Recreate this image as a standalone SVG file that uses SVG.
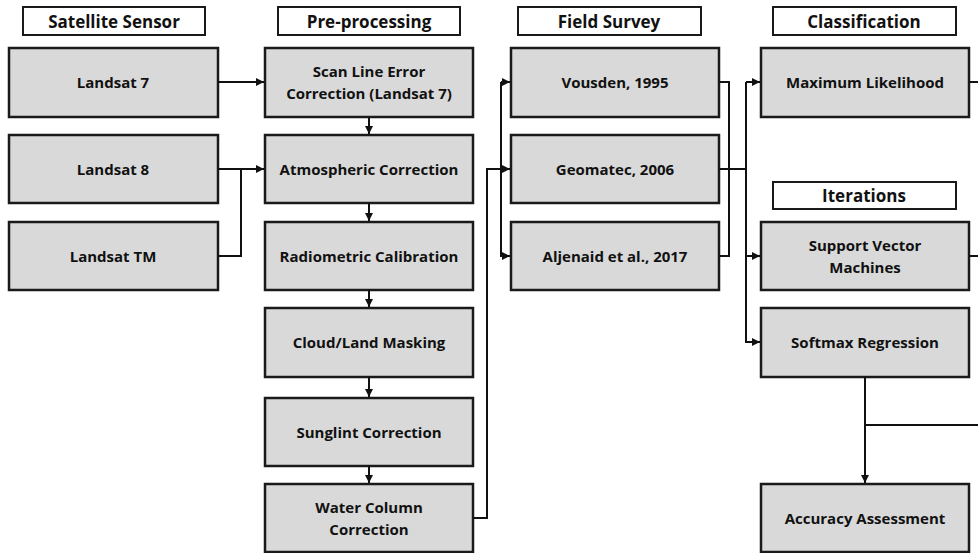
<svg xmlns="http://www.w3.org/2000/svg" width="978" height="553" viewBox="0 0 978 553">
<defs>
<style>
.hdr{fill:#fff;stroke:#1a1a1a;stroke-width:2}
.box{fill:#d9d9d9;stroke:#1a1a1a;stroke-width:2.5}
.ht{font-family:"Open Sans",sans-serif;font-weight:bold;font-size:17px;fill:#111;text-anchor:middle}
.t{font-family:"Open Sans",sans-serif;font-weight:bold;font-size:15px;fill:#111;text-anchor:middle}
.c{fill:none;stroke:#111;stroke-width:2}
.a{marker-end:url(#ar)}
</style>
<marker id="ar" viewBox="0 0 8 8" refX="8" refY="4" markerWidth="4" markerHeight="4" orient="auto" markerUnits="strokeWidth">
<path d="M0,0 L8,4 L0,8 z" fill="#111"/>
</marker>
</defs>
<rect width="978" height="553" fill="#fff"/>

<g id="h-sat"><rect class="hdr" x="23" y="7" width="182" height="28"/><text class="ht" x="114" y="28">Satellite Sensor</text></g>
<g id="h-pre"><rect class="hdr" x="278" y="7" width="182" height="28"/><text class="ht" x="369" y="28">Pre-processing</text></g>
<g id="h-field"><rect class="hdr" x="518" y="7" width="183" height="28"/><text class="ht" x="609" y="28">Field Survey</text></g>
<g id="h-class"><rect class="hdr" x="773" y="7" width="183" height="28"/><text class="ht" x="864" y="28">Classification</text></g>
<g id="h-iter"><rect class="hdr" x="773" y="182" width="183" height="27"/><text class="ht" x="864" y="202">Iterations</text></g>

<g id="landsat7"><rect class="box" x="9" y="48" width="209" height="69"/><text class="t" x="113" y="88">Landsat 7</text></g>
<g id="landsat8"><rect class="box" x="9" y="135" width="209" height="68"/><text class="t" x="113" y="175">Landsat 8</text></g>
<g id="landsatTM"><rect class="box" x="9" y="222" width="209" height="68"/><text class="t" x="113" y="262">Landsat TM</text></g>

<g id="scanline"><rect class="box" x="265" y="48" width="208" height="69"/><text class="t" x="369" y="77">Scan Line Error</text><text class="t" x="369" y="99">Correction (Landsat 7)</text></g>
<g id="atmos"><rect class="box" x="265" y="135" width="208" height="68"/><text class="t" x="369" y="175">Atmospheric Correction</text></g>
<g id="radio"><rect class="box" x="265" y="222" width="208" height="68"/><text class="t" x="369" y="262">Radiometric Calibration</text></g>
<g id="cloud"><rect class="box" x="265" y="308" width="208" height="69"/><text class="t" x="369" y="348">Cloud/Land Masking</text></g>
<g id="sunglint"><rect class="box" x="265" y="398" width="208" height="68"/><text class="t" x="369" y="438">Sunglint Correction</text></g>
<g id="water"><rect class="box" x="265" y="484" width="208" height="68"/><text class="t" x="369" y="513">Water Column</text><text class="t" x="369" y="535">Correction</text></g>

<g id="vousden"><rect class="box" x="511" y="48" width="208" height="69"/><text class="t" x="615" y="88">Vousden, 1995</text></g>
<g id="geomatec"><rect class="box" x="511" y="135" width="208" height="68"/><text class="t" x="615" y="175">Geomatec, 2006</text></g>
<g id="aljenaid"><rect class="box" x="511" y="222" width="208" height="68"/><text class="t" x="615" y="262">Aljenaid et al., 2017</text></g>

<g id="maxlik"><rect class="box" x="761" y="48" width="208" height="69"/><text class="t" x="865" y="88">Maximum Likelihood</text></g>
<g id="svm"><rect class="box" x="761" y="222" width="208" height="68"/><text class="t" x="865" y="251">Support Vector</text><text class="t" x="865" y="273">Machines</text></g>
<g id="softmax"><rect class="box" x="761" y="308" width="208" height="69"/><text class="t" x="865" y="348">Softmax Regression</text></g>
<g id="accuracy"><rect class="box" x="761" y="484" width="208" height="68"/><text class="t" x="865" y="524">Accuracy Assessment</text></g>

<g id="connectors">
<path class="c a" d="M218,82 H264"/>
<path class="c a" d="M218,169 H264"/>
<path class="c" d="M218,256 H241 V169"/>
<path class="c a" d="M369,117 V134"/>
<path class="c a" d="M369,203 V221"/>
<path class="c a" d="M369,290 V307"/>
<path class="c a" d="M369,377 V397"/>
<path class="c a" d="M369,466 V483"/>
<path class="c" d="M473,518 H487 V169 H501"/>
<path class="c a" d="M501,169 H510"/>
<path class="c a" d="M501,82 V256 H510"/>
<path class="c a" d="M501,82 H510"/>
<path class="c" d="M719,82 H729 V256 H719"/>
<path class="c" d="M719,169 H746"/>
<path class="c a" d="M746,82 H760"/>
<path class="c a" d="M746,82 V256 H760"/>
<path class="c a" d="M746,256 V342 H760"/>
<path class="c" d="M969,82 H978"/>
<path class="c" d="M969,256 H978"/>
<path class="c a" d="M865,377 V483"/>
<path class="c" d="M865,425 H978"/>
</g>
</svg>
